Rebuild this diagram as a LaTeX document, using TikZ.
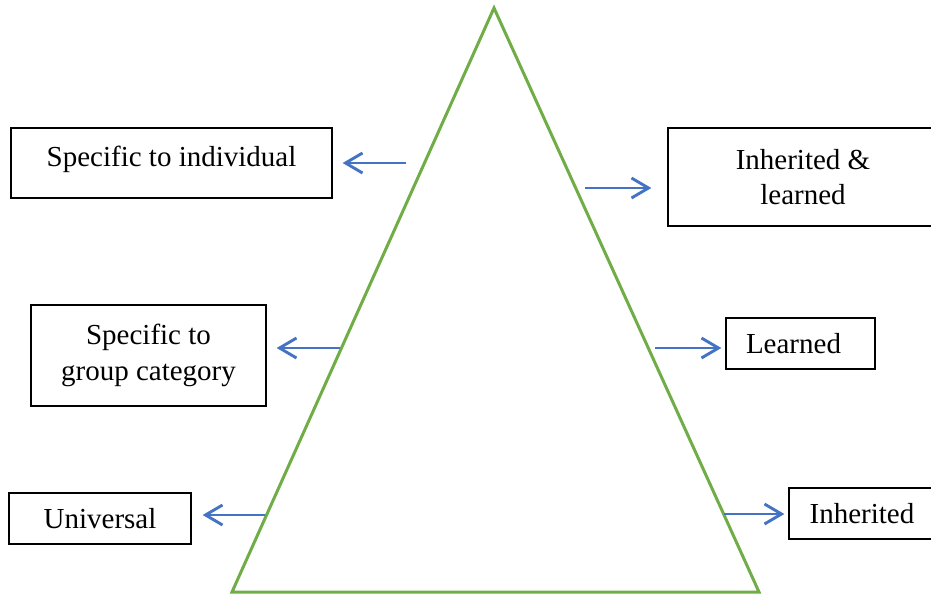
\documentclass[tikz,border=0pt]{standalone}
\usepackage{fontspec}
\setmainfont{Liberation Serif}
\usetikzlibrary{arrows.meta, calc}
\definecolor{layerblue}{RGB}{68, 114, 196}
\definecolor{pyramidgreen}{RGB}{112, 173, 71}

\begin{document}
\begin{tikzpicture}[
    x=1pt, y=-1pt,
    box/.style={rectangle, draw=black, line width=1.3pt, align=center, inner sep=0pt,
        font=\fontsize{29}{35.5}\selectfont},
    arrow/.style={-{Straight Barb[length=17pt, width=20pt]}, layerblue, line width=2.9pt},
    pyramid/.style={pyramidgreen, line width=3pt}
]

\useasboundingbox (0, 0) rectangle (931, 595);
\clip (0, 0) rectangle (931, 595);

% Pyramid
\coordinate (apex) at (494, 8);
\coordinate (base-right) at (759, 592);
\coordinate (base-left) at (232, 592);
\draw[pyramid] (apex) -- (base-right) -- (base-left) -- cycle;

% ============ LEFT SIDE ============
\node[box, minimum width=321, minimum height=70, text depth=14pt] (individual) at (171.5, 163) {Specific to individual};
\node[box, minimum width=235, minimum height=101] (group) at (148.5, 355.5) {Specific to\\group category};
\node[box, minimum width=182, minimum height=51] (universal) at (100, 518.5) {Universal};

% ============ RIGHT SIDE ============
\node[box, minimum width=270, minimum height=98] (inh-learned) at (803, 177) {Inherited \&\\learned};
\node[box, minimum width=149, minimum height=51] (learned) at (800.5, 343.5) {Learned\hspace{14pt}};
\node[box, minimum width=146, minimum height=51] (inherited) at (862, 513.5) {Inherited};

% Arrow starts near the pyramid
\coordinate (start-individual) at (406, 163);
\coordinate (start-group) at (340, 348);
\coordinate (start-universal) at (265, 515);
\coordinate (start-inh-learned) at (585, 188);
\coordinate (start-learned) at (655, 348);
\coordinate (start-inherited) at (724, 514);

% Arrows
\draw[arrow, shorten >=10pt] (start-individual) -- (start-individual -| individual.east);
\draw[arrow, shorten >=10pt] (start-group) -- (start-group -| group.east);
\draw[arrow, shorten >=11pt] (start-universal) -- (start-universal -| universal.east);

\draw[arrow, shorten >=16pt] (start-inh-learned) -- (start-inh-learned -| inh-learned.west);
\draw[arrow, shorten >=4pt] (start-learned) -- (start-learned -| learned.west);
\draw[arrow, shorten >=4pt] (start-inherited) -- (start-inherited -| inherited.west);

\end{tikzpicture}
\end{document}
